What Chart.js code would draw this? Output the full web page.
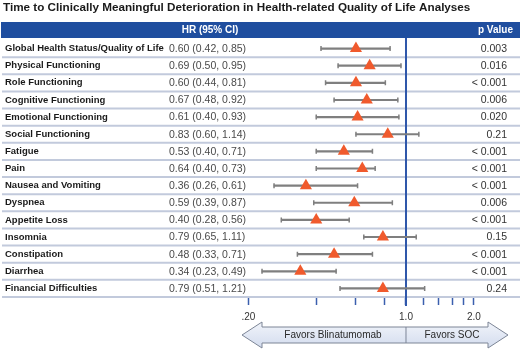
<!DOCTYPE html>
<html>
<head>
<meta charset="utf-8">
<script src="https://cdn.jsdelivr.net/npm/chart.js@4"></script>
<style>
html,body{margin:0;padding:0;background:#fff;}
#wrap{width:520px;height:349px;position:relative;}
</style>
</head>
<body>
<div id="wrap"><canvas id="c" width="520" height="349"></canvas></div>
<script>
const titleText = 'Time to Clinically Meaningful Deterioration in Health-related Quality of Life Analyses';
const categories = [
  'Global Health Status/Quality of Life','Physical Functioning','Role Functioning',
  'Cognitive Functioning','Emotional Functioning','Social Functioning','Fatigue','Pain',
  'Nausea and Vomiting','Dyspnea','Appetite Loss','Insomnia','Constipation','Diarrhea',
  'Financial Difficulties'
];
const hr      = [0.60,0.69,0.60,0.67,0.61,0.83,0.53,0.64,0.36,0.59,0.40,0.79,0.48,0.34,0.79];
const ciLow   = [0.42,0.50,0.44,0.48,0.40,0.60,0.40,0.40,0.26,0.39,0.28,0.65,0.33,0.23,0.51];
const ciHigh  = [0.85,0.95,0.81,0.92,0.93,1.14,0.71,0.73,0.61,0.87,0.56,1.11,0.71,0.49,1.21];
const pValues = ['0.003','0.016','< 0.001','0.006','0.020','0.21','< 0.001','< 0.001','< 0.001','0.006','< 0.001','0.15','< 0.001','< 0.001','0.24'];
const tickValues = [0.2,0.4,0.6,0.8,1.0,1.2,1.4,1.6,1.8,2.0];
const tickLabels = ['.20','','','','1.0','','','','','2.0'];
const headerLabels = ['HR (95% CI)','p Value'];
const favorLabels = ['Favors Blinatumomab','Favors SOC'];

const FONT = "'Liberation Sans', Arial, Helvetica, sans-serif";
const fmt = v => v.toFixed(2);

const decor = {
  id: 'decor',
  beforeDatasetsDraw(chart) {
    const ctx = chart.ctx, y = chart.scales.y, x = chart.scales.x;
    ctx.save();
    // title
    ctx.fillStyle = '#1a1a1a';
    ctx.font = 'bold 11.7px ' + FONT;
    ctx.textBaseline = 'alphabetic';
    ctx.textAlign = 'left';
    ctx.fillText(titleText, 3, 10.5);
    // header bar
    ctx.fillStyle = '#1f4e9f';
    ctx.fillRect(1, 22, 519, 16);
    ctx.fillStyle = '#ffffff';
    ctx.font = 'bold 10px ' + FONT;
    ctx.textBaseline = 'middle';
    ctx.textAlign = 'center';
    ctx.fillText(headerLabels[0], 210, 30.5);
    ctx.textAlign = 'right';
    ctx.fillText(headerLabels[1], 513, 30.5);
    // row separators
    ctx.strokeStyle = '#c2cadc';
    ctx.lineWidth = 2;
    const n = categories.length;
    for (let i = 0; i < n; i++) {
      const p = y.getPixelForValue(i);
      const step = (i < n - 1) ? (y.getPixelForValue(i + 1) - p) : (p - y.getPixelForValue(i - 1));
      const b = p + step / 2;
      ctx.beginPath();
      ctx.moveTo(2, b);
      ctx.lineTo(520, b);
      ctx.stroke();
    }
    // HR text & p values
    ctx.font = '10.5px ' + FONT;
    ctx.textBaseline = 'middle';
    for (let i = 0; i < n; i++) {
      const p = y.getPixelForValue(i);
      ctx.fillStyle = '#4a4a4a';
      ctx.textAlign = 'left';
      ctx.fillText(fmt(hr[i]) + ' (' + fmt(ciLow[i]) + ', ' + fmt(ciHigh[i]) + ')', 169, p + 0.5);
      ctx.fillStyle = '#333333';
      ctx.textAlign = 'right';
      ctx.fillText(pValues[i], 507, p + 0.5);
    }
    // reference line at HR = 1
    const x1 = x.getPixelForValue(1);
    ctx.strokeStyle = '#2f57aa';
    ctx.lineWidth = 2;
    ctx.beginPath();
    ctx.moveTo(x1, 38);
    ctx.lineTo(x1, 306);
    ctx.stroke();
    ctx.restore();
  },
  afterDraw(chart) {
    const ctx = chart.ctx, x = chart.scales.x;
    const x1 = x.getPixelForValue(1);
    const L = 242, R = 508, cy = 335, bt = 327, bb = 343, ht = 322, hb = 348, hw = 20;
    ctx.save();
    const g = ctx.createLinearGradient(0, ht, 0, hb);
    g.addColorStop(0, '#f1f4fa');
    g.addColorStop(1, '#d3dcee');
    ctx.beginPath();
    ctx.moveTo(L, cy);
    ctx.lineTo(L + hw, ht);
    ctx.lineTo(L + hw, bt);
    ctx.lineTo(R - hw, bt);
    ctx.lineTo(R - hw, ht);
    ctx.lineTo(R, cy);
    ctx.lineTo(R - hw, hb);
    ctx.lineTo(R - hw, bb);
    ctx.lineTo(L + hw, bb);
    ctx.lineTo(L + hw, hb);
    ctx.closePath();
    ctx.fillStyle = g;
    ctx.fill();
    ctx.strokeStyle = '#7c8596';
    ctx.lineWidth = 1;
    ctx.stroke();
    ctx.beginPath();
    ctx.moveTo(x1, bt);
    ctx.lineTo(x1, bb);
    ctx.stroke();
    ctx.fillStyle = '#2a2a2a';
    ctx.font = '10px ' + FONT;
    ctx.textAlign = 'center';
    ctx.textBaseline = 'middle';
    ctx.fillText(favorLabels[0], 333, cy + 0.5);
    ctx.fillText(favorLabels[1], 452, cy + 0.5);
    ctx.restore();
  }
};

const GRAY = '#7f7f7f';
new Chart(document.getElementById('c'), {
  type: 'bar',
  data: {
    labels: categories,
    datasets: [
      {
        type: 'line', label: 'HR', order: 0,
        data: hr.map((v, i) => ({x: v, y: categories[i]})),
        showLine: false, pointStyle: 'triangle', pointRadius: 7,
        pointBackgroundColor: '#f05a2d', pointBorderColor: '#f05a2d', pointBorderWidth: 0
      },
      {
        type: 'line', label: 'low', order: 1,
        data: ciLow.map((v, i) => ({x: v, y: categories[i]})),
        showLine: false, pointStyle: 'line', pointRotation: 90, pointRadius: 2.5,
        pointBorderColor: GRAY, pointBorderWidth: 1.5
      },
      {
        type: 'line', label: 'high', order: 1,
        data: ciHigh.map((v, i) => ({x: v, y: categories[i]})),
        showLine: false, pointStyle: 'line', pointRotation: 90, pointRadius: 2.5,
        pointBorderColor: GRAY, pointBorderWidth: 1.5
      },
      {
        type: 'bar', label: 'CI', order: 2,
        data: ciLow.map((v, i) => [v, ciHigh[i]]),
        backgroundColor: GRAY, barThickness: 1.5, borderWidth: 0
      }
    ]
  },
  options: {
    indexAxis: 'y',
    responsive: false,
    animation: false,
    layout: {padding: {top: 40, left: 5, right: 0, bottom: 0}},
    plugins: {legend: {display: false}, tooltip: {enabled: false}, title: {display: false}},
    scales: {
      x: {
        type: 'logarithmic',
        position: 'bottom',
        min: 0.1837, max: 2.981,
        afterFit(s) { s.height = 52; },
        afterBuildTicks(s) { s.ticks = tickValues.map(v => ({value: v})); },
        grid: {drawOnChartArea: false, drawTicks: true, tickLength: 8, tickColor: '#3b5fae', tickWidth: 1.5},
        border: {display: false},
        ticks: {
          autoSkip: false, maxRotation: 0, padding: 6,
          color: '#333', font: {size: 10, family: FONT},
          callback(v) { const k = tickValues.findIndex(t => Math.abs(t - v) < 1e-6); return k >= 0 ? tickLabels[k] : ''; }
        }
      },
      y: {
        type: 'category',
        position: 'left',
        afterFit(s) { s.width = 235; },
        grid: {display: false},
        border: {display: false},
        ticks: {crossAlign: 'far', color: '#1a1a1a', font: {size: 9.5, weight: 'bold', family: FONT}}
      }
    }
  },
  plugins: [decor]
});
</script>
</body>
</html>
